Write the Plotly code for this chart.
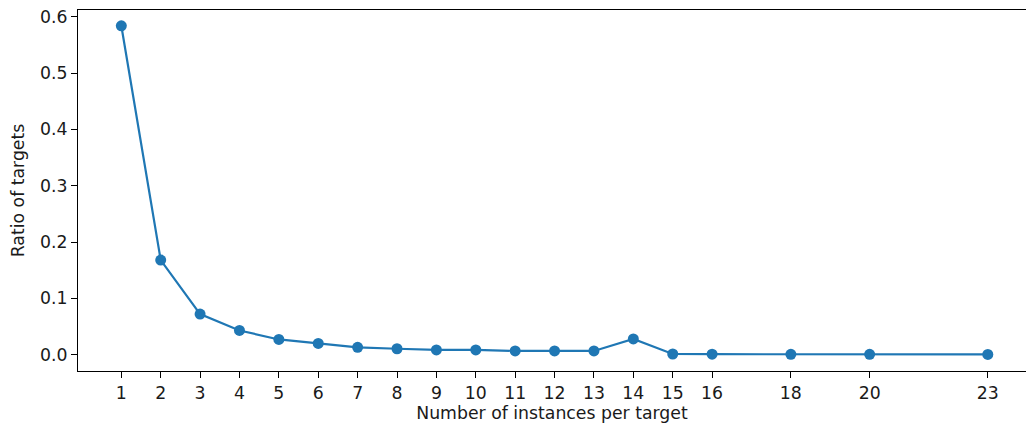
import plotly.graph_objects as go

instances = [1, 2, 3, 4, 5, 6, 7, 8, 9, 10, 11, 12, 13, 14, 15, 16, 18, 20, 23]
ratios = [0.584, 0.168, 0.072, 0.043, 0.027, 0.020, 0.013, 0.0105, 0.0085, 0.0085,
          0.0066, 0.0066, 0.0066, 0.028, 0.0012, 0.0008, 0.0006, 0.0006, 0.0005]
y_ticks = [0.0, 0.1, 0.2, 0.3, 0.4, 0.5, 0.6]

fig = go.Figure(go.Scatter(
    x=instances, y=ratios, mode="lines+markers",
    line=dict(color="#1f77b4", width=2.2),
    marker=dict(color="#1f77b4", size=11),
))

font = dict(family="DejaVu Sans", size=17.3, color="#1a1a1a")
fig.update_layout(
    width=1026, height=432,
    margin=dict(l=78, r=0, t=10, b=61),
    paper_bgcolor="white", plot_bgcolor="white",
    font=font, showlegend=False,
    xaxis=dict(
        range=[-0.1, 23.97], tickmode="array", tickvals=instances,
        ticktext=[str(v) for v in instances],
        showgrid=False, zeroline=False, showline=True, linecolor="black",
        linewidth=1.2, mirror=True, ticks="outside", ticklen=6, tickwidth=1.2,
        tickcolor="black",
        title=dict(text="Number of instances per target", standoff=5, font=font),
    ),
    yaxis=dict(
        range=[-0.029, 0.612], tickmode="array", tickvals=y_ticks,
        ticktext=[f"{v:.1f}" for v in y_ticks],
        showgrid=False, zeroline=False, showline=True, linecolor="black",
        linewidth=1.2, mirror=False, ticks="outside", ticklen=6, tickwidth=1.2,
        tickcolor="black",
        title=dict(text="Ratio of targets", standoff=10, font=font),
    ),
)

fig.write_html(
    "out.html", config={"displayModeBar": False},
    post_script=("document.body.style.margin='0';"
                 "document.body.style.overflow='hidden';"
                 "document.documentElement.style.overflow='hidden';"),
)
